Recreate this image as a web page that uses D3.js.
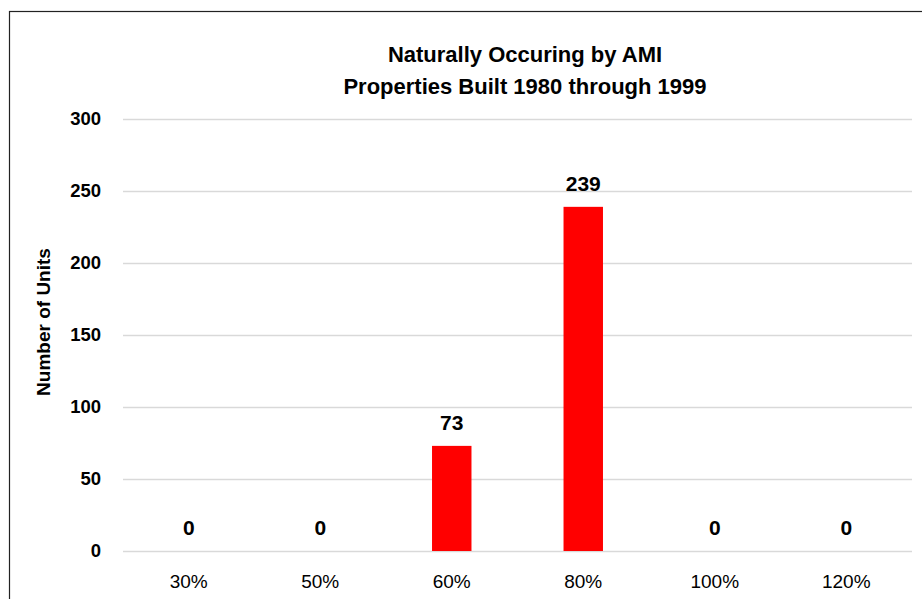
<!DOCTYPE html>
<html>
<head>
<meta charset="utf-8">
<script src="https://cdn.jsdelivr.net/npm/d3@7"></script>
<style>
    body { margin: 0; background: #fff; }
    text { font-family: "Liberation Sans", Arial, sans-serif; }
</style>
</head>
<body>
<div id="chart"></div>
<script>
"use strict";

const categories = ["30%", "50%", "60%", "80%", "100%", "120%"];
const units = [0, 0, 73, 239, 0, 0];
const yTicks = [0, 50, 100, 150, 200, 250, 300];
const titleLines = ["Naturally Occuring by AMI", "Properties Built 1980 through 1999"];

const msm = {
    width: 922,
    height: 599,
    left: 123,
    right: 912,
    top: 119,
    bottom: 551
}

let svg = d3.select("#chart")
    .append("svg")
    .attr("width", msm.width)
    .attr("height", msm.height);

// outer chart border (right and bottom edges are cut off in the picture)
svg.append("rect")
    .attr("x", 9.5)
    .attr("y", 11.5)
    .attr("width", 1000)
    .attr("height", 1000)
    .attr("fill", "none")
    .attr("stroke", "#222")
    .attr("stroke-width", 1.2);

let xScale = d3.scaleBand()
    .domain(categories)
    .range([msm.left, msm.right])
    .paddingInner(0.7)
    .paddingOuter(0.35);

let yScale = d3.scaleLinear()
    .domain([0, 300])
    .range([msm.bottom, msm.top]);

// y axis with gridlines
let yAxis = d3.axisLeft(yScale)
    .tickValues(yTicks)
    .tickSize(-(msm.right - msm.left))
    .tickPadding(22);
let yG = svg.append("g")
    .attr("transform", "translate(" + msm.left + ",0)")
    .call(yAxis);
yG.select(".domain").remove();
yG.selectAll("line")
    .attr("stroke", "#d9d9d9")
    .attr("stroke-width", 1.4);
yG.selectAll("text")
    .attr("fill", "#000")
    .style("font-size", "18.5px")
    .style("font-weight", "bold");

// x axis labels
let xAxis = d3.axisBottom(xScale)
    .tickSize(0)
    .tickPadding(24);
let xG = svg.append("g")
    .attr("transform", "translate(0," + msm.bottom + ")")
    .call(xAxis);
xG.select(".domain").remove();
xG.selectAll("text")
    .attr("fill", "#000")
    .style("font-size", "19px");

// bars
svg.append("g")
    .selectAll("rect")
    .data(units)
    .enter()
    .append("rect")
    .attr("x", (d, i) => xScale(categories[i]))
    .attr("y", d => yScale(d))
    .attr("width", xScale.bandwidth())
    .attr("height", d => msm.bottom - yScale(d))
    .attr("fill", "#ff0000");

// value labels
svg.append("g")
    .selectAll("text")
    .data(units)
    .enter()
    .append("text")
    .attr("x", (d, i) => xScale(categories[i]) + xScale.bandwidth() / 2)
    .attr("y", d => yScale(d) - 16)
    .attr("text-anchor", "middle")
    .style("font-size", "21px")
    .style("font-weight", "bold")
    .text(d => d);

// title
svg.append("g")
    .selectAll("text")
    .data(titleLines)
    .enter()
    .append("text")
    .attr("x", 525)
    .attr("y", (d, i) => 62 + i * 32)
    .attr("text-anchor", "middle")
    .style("font-size", "22px")
    .style("font-weight", "bold")
    .text(d => d);

// y axis title
svg.append("text")
    .attr("transform", "translate(50," + 322 + ") rotate(-90)")
    .attr("text-anchor", "middle")
    .style("font-size", "19px")
    .style("font-weight", "bold")
    .text("Number of Units");
</script>
</body>
</html>
